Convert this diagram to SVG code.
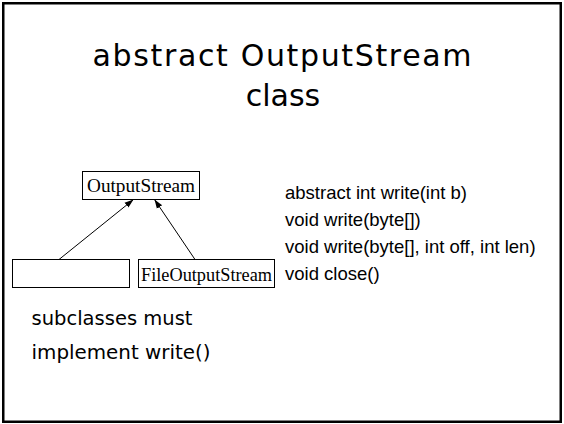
<svg xmlns="http://www.w3.org/2000/svg" width="564" height="424" viewBox="0 0 564 424">
  <style>
    .frame { fill: #ffffff; stroke: #000000; stroke-width: 2.5; }
    .box { fill: #ffffff; stroke: #000000; stroke-width: 1; }
    .cls { font-family: "Liberation Serif", "Times New Roman", serif; fill: #000000; }
    .title { font-family: "DejaVu Sans", "Open Sans", sans-serif; font-size: 30px; fill: #000000; text-anchor: middle; }
    .note { font-family: "DejaVu Sans", "Open Sans", sans-serif; font-size: 20px; fill: #000000; }
    .method { font-family: "Liberation Sans", Arial, sans-serif; font-size: 18.5px; fill: #000000; }
    .edge { stroke: #000000; stroke-width: 1; fill: none; marker-end: url(#arrow); }
  </style>
  <defs>
    <marker id="arrow" viewBox="0 0 10 10" refX="10" refY="5" markerWidth="9" markerHeight="9" markerUnits="userSpaceOnUse" orient="auto">
      <path d="M0,1.5 L10,5 L0,8.5 Z" fill="#000000"/>
    </marker>
  </defs>

  <!-- page frame -->
  <rect class="frame" x="3.25" y="3.25" width="557.5" height="418.5"/>

  <!-- heading -->
  <text class="title" x="282" y="66" textLength="379" lengthAdjust="spacing">abstract OutputStream</text>
  <text class="title" x="283" y="106">class</text>

  <!-- class hierarchy -->
  <g id="connectors">
    <line class="edge" x1="59" y1="259.5" x2="133.5" y2="199.5"/>
    <line class="edge" x1="195" y1="259.5" x2="154.5" y2="199.5"/>
  </g>

  <g id="outputstream">
    <rect class="box" x="82.5" y="171.5" width="117" height="28"/>
    <text class="cls" x="141" y="192" font-size="19" text-anchor="middle" textLength="108" lengthAdjust="spacingAndGlyphs">OutputStream</text>
  </g>

  <g id="subclass">
    <rect class="box" x="12.5" y="259.5" width="117" height="28"/>
  </g>

  <g id="fileoutputstream">
    <rect class="box" x="138.5" y="259.5" width="136" height="28"/>
    <text class="cls" x="206.5" y="281" font-size="18.5" text-anchor="middle" textLength="131" lengthAdjust="spacingAndGlyphs">FileOutputStream</text>
  </g>

  <!-- method list -->
  <g id="methods">
    <text class="method" x="285" y="199">abstract int write(int b)</text>
    <text class="method" x="285" y="226">void write(byte[])</text>
    <text class="method" x="285" y="253">void write(byte[], int off, int len)</text>
    <text class="method" x="285" y="280">void close()</text>
  </g>

  <!-- note -->
  <g id="note">
    <text class="note" x="31.5" y="325" textLength="161" lengthAdjust="spacingAndGlyphs">subclasses must</text>
    <text class="note" x="31.5" y="359" textLength="179" lengthAdjust="spacingAndGlyphs">implement write()</text>
  </g>
</svg>
